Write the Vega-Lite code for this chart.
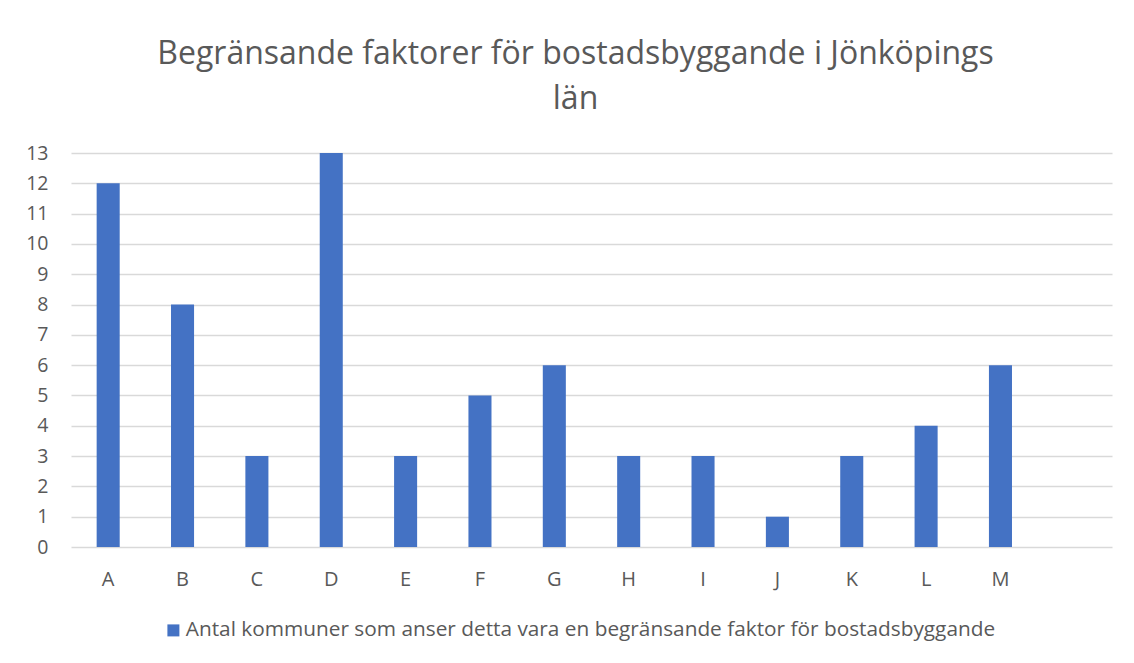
{
  "$schema": "https://vega.github.io/schema/vega-lite/v6.json",
  "autosize": "none",
  "width": 1041,
  "height": 394,
  "padding": {"left": 71, "top": 153, "right": 22, "bottom": 116},
  "background": "white",
  "config": {
    "font": "Open Sans",
    "view": {"stroke": null}
  },
  "title": {
    "text": ["Begränsande faktorer för bostadsbyggande i Jönköpings", "län"],
    "font": "Open Sans",
    "fontSize": 32,
    "fontWeight": "normal",
    "color": "#595959",
    "anchor": "middle",
    "dx": -16,
    "offset": 27,
    "lineHeight": 45
  },
  "data": {
    "values": [
      {"faktor": "A", "antal": 12},
      {"faktor": "B", "antal": 8},
      {"faktor": "C", "antal": 3},
      {"faktor": "D", "antal": 13},
      {"faktor": "E", "antal": 3},
      {"faktor": "F", "antal": 5},
      {"faktor": "G", "antal": 6},
      {"faktor": "H", "antal": 3},
      {"faktor": "I", "antal": 3},
      {"faktor": "J", "antal": 1},
      {"faktor": "K", "antal": 3},
      {"faktor": "L", "antal": 4},
      {"faktor": "M", "antal": 6}
    ]
  },
  "mark": {"type": "bar"},
  "encoding": {
    "x": {
      "field": "faktor",
      "type": "nominal",
      "sort": null,
      "scale": {
        "domain": ["A","B","C","D","E","F","G","H","I","J","K","L","M"," "],
        "paddingInner": 0.69,
        "paddingOuter": 0.345
      },
      "axis": {
        "title": null,
        "labelAngle": 0,
        "domain": false,
        "ticks": false,
        "labelPadding": 22,
        "labelFontSize": 20,
        "labelColor": "#595959",
        "labelFont": "Open Sans"
      }
    },
    "y": {
      "field": "antal",
      "type": "quantitative",
      "scale": {"domain": [0, 13], "nice": false},
      "axis": {
        "title": null,
        "values": [0,1,2,3,4,5,6,7,8,9,10,11,12,13],
        "domain": false,
        "ticks": false,
        "labelPadding": 23,
        "labelFontSize": 19.5,
        "labelColor": "#595959",
        "labelFont": "Open Sans",
        "gridColor": "#d9d9d9",
        "gridWidth": 1.3
      }
    },
    "color": {
      "datum": "Antal kommuner som anser detta vara en begränsande faktor för bostadsbyggande",
      "type": "nominal",
      "scale": {"range": ["#4472C4"]},
      "legend": {
        "title": null,
        "orient": "none",
        "legendX": 92,
        "legendY": 467,
        "symbolType": "square",
        "symbolSize": 144,
        "symbolStrokeWidth": 0,
        "labelFontSize": 20.8,
        "labelColor": "#595959",
        "labelFont": "Open Sans",
        "labelOffset": 2,
        "labelLimit": 1000
      }
    }
  }
}
